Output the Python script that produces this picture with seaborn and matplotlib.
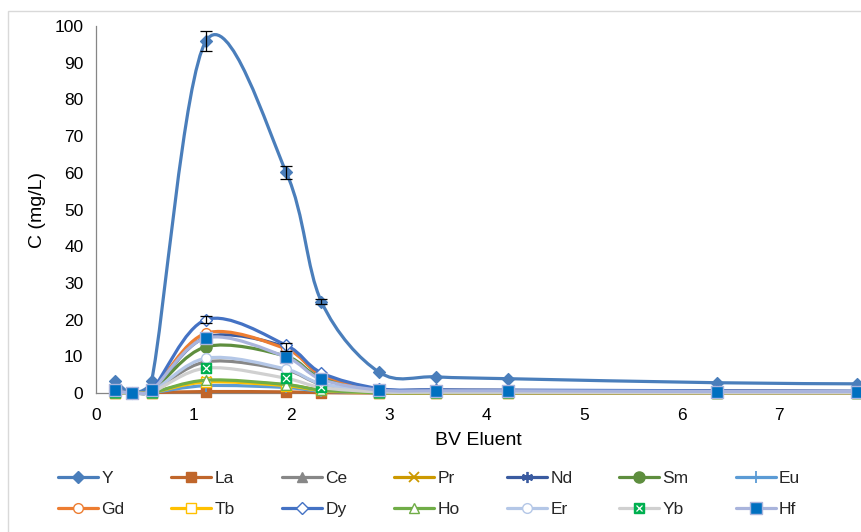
"""Elution profile of REEs vs bed volumes of eluent."""

import matplotlib

matplotlib.use("Agg")
import matplotlib.pyplot as plt
import numpy as np
import seaborn as sns
from matplotlib.lines import Line2D
from matplotlib.patches import PathPatch, Rectangle
from matplotlib.path import Path

# bed volumes of eluent (x) and concentration per element (mg/L)
bv = [0.19, 0.37, 0.57, 1.13, 1.95, 2.31, 2.90, 3.48, 4.22, 6.36, 7.80]

Y = [3.4, 0.0, 3.4, 96.0, 60.1, 24.9, 5.7, 4.4, 3.9, 2.8, 2.5]
La = [0.1, 0.0, 0.1, 0.4, 0.3, 0.1, 0.0, 0.0, 0.0, 0.0, 0.0]
Ce = [0.3, 0.0, 0.3, 8.5, 6.2, 2.4, 0.4, 0.3, 0.3, 0.2, 0.2]
Pr = [0.1, 0.0, 0.1, 3.2, 2.2, 0.8, 0.1, 0.1, 0.1, 0.1, 0.1]
Nd = [0.6, 0.0, 0.6, 15.2, 12.5, 4.8, 0.9, 0.7, 0.6, 0.5, 0.4]
Sm = [0.5, 0.0, 0.5, 12.6, 10.0, 4.0, 0.8, 0.6, 0.5, 0.4, 0.3]
Eu = [0.1, 0.0, 0.1, 2.0, 1.5, 0.5, 0.1, 0.1, 0.1, 0.1, 0.1]
Gd = [0.7, 0.0, 0.7, 16.3, 12.0, 5.0, 1.0, 0.8, 0.7, 0.5, 0.4]
Tb = [0.1, 0.0, 0.1, 3.0, 2.0, 0.7, 0.1, 0.1, 0.1, 0.1, 0.1]
Dy = [0.8, 0.0, 0.8, 20.0, 13.0, 5.5, 1.2, 0.9, 0.8, 0.6, 0.5]
Ho = [0.1, 0.0, 0.1, 3.5, 2.3, 0.8, 0.1, 0.1, 0.1, 0.1, 0.1]
Er = [0.3, 0.0, 0.3, 9.5, 6.5, 2.5, 0.5, 0.4, 0.3, 0.2, 0.2]
Yb = [0.2, 0.0, 0.2, 6.8, 4.0, 1.5, 0.3, 0.2, 0.2, 0.1, 0.1]
Hf = [0.7, 0.0, 0.7, 15.0, 9.8, 3.7, 0.8, 0.6, 0.6, 0.4, 0.4]

# standard deviations (only where error bars are visible)
Y_err = [0, 0, 0, 2.7, 1.8, 0.6, 0, 0, 0, 0, 0]
Dy_err = [0, 0, 0, 1.0, 0, 0, 0, 0, 0, 0, 0]
Nd_err = [0, 0, 0, 0, 1.0, 0, 0, 0, 0, 0, 0]

elements = ["Y", "La", "Ce", "Pr", "Nd", "Sm", "Eu",
            "Gd", "Tb", "Dy", "Ho", "Er", "Yb", "Hf"]
values = dict(Y=Y, La=La, Ce=Ce, Pr=Pr, Nd=Nd, Sm=Sm, Eu=Eu,
              Gd=Gd, Tb=Tb, Dy=Dy, Ho=Ho, Er=Er, Yb=Yb, Hf=Hf)

# line colour, marker, marker size, face colour, edge colour
styles = {
    "Y": ("#4A7EBB", "D", 6, "#4A7EBB", "#4A7EBB"),
    "La": ("#C0662B", "s", 7, "#C0662B", "#C0662B"),
    "Ce": ("#878787", "^", 7, "#878787", "#878787"),
    "Pr": ("#CC9900", "x", 7, "#CC9900", "#CC9900"),
    "Nd": ("#3A5BA0", (6, 2, 0), 8, "#3A5BA0", "#3A5BA0"),
    "Sm": ("#5E8E3E", "o", 8, "#5E8E3E", "#5E8E3E"),
    "Eu": ("#5B9BD5", "+", 8, "#5B9BD5", "#5B9BD5"),
    "Gd": ("#ED7D31", "o", 7, "white", "#ED7D31"),
    "Tb": ("#FFC000", "s", 7, "white", "#FFC000"),
    "Dy": ("#4472C4", "D", 6, "white", "#4472C4"),
    "Ho": ("#70AD47", "^", 7, "white", "#70AD47"),
    "Er": ("#B4C7E7", "o", 7, "white", "#B4C7E7"),
    "Yb": ("#D0D0D0", "s", 7, "#00B050", "#00B050"),
    "Hf": ("#A9B4DC", "s", 8, "#0070C0", "#A9B4DC"),
}


def smooth_path(ax, x, y):
    # Excel-like smoothed line: Catmull-Rom Bezier handles, shortened on
    # screen when a handle would be long compared with its segment
    pts = np.column_stack([x, y]).astype(float)
    to_disp = ax.transData.transform
    n = len(pts)
    verts, codes = [pts[0]], [Path.MOVETO]

    def handle(t, seg_len):
        tl = np.hypot(*(to_disp(t) - to_disp((0, 0))))
        limit = 0.4 * seg_len
        return t * min(1.0, limit / tl) if tl > 0 else t

    for i in range(n - 1):
        p0, p1 = pts[max(i - 1, 0)], pts[i]
        p2, p3 = pts[i + 1], pts[min(i + 2, n - 1)]
        seg_len = np.hypot(*(to_disp(p2) - to_disp(p1)))
        c1 = p1 + handle((p2 - p0) / 6, seg_len)
        c2 = p2 - handle((p3 - p1) / 6, seg_len)
        verts += [c1, c2, p2]
        codes += [Path.CURVE4] * 3
    return Path(verts, codes)


sns.set_theme(style="white")
plt.rcParams["font.family"] = ["Liberation Sans", "DejaVu Sans"]

fig = plt.figure(figsize=(8.62, 5.32), dpi=100)
ax = fig.add_axes([96 / 862, 1 - 393 / 532, 764 / 862, 367 / 532])
ax.set_xlim(0, 7.83)
ax.set_ylim(0, 100)

fig.patches.append(Rectangle((8 / 862, -0.1), 1.2, 1 - 11 / 532 + 0.1,
                             transform=fig.transFigure, fill=False,
                             edgecolor="#D9D9D9", lw=1.0))

handles = []
for i, el in enumerate(elements):
    lc, mk, ms, fc, ec = styles[el]
    z = 3 + i * 0.1
    ax.add_patch(PathPatch(smooth_path(ax, bv, values[el]), fill=False,
                           edgecolor=lc, lw=2.3, zorder=z, clip_on=False,
                           capstyle="round"))
    lw_m = 1.3 if mk in ("x", "+", (6, 2, 0)) else 1.0
    sns.scatterplot(x=bv, y=values[el], ax=ax, marker=mk, s=ms ** 2,
                    color=fc, facecolor=fc, edgecolor=ec, linewidth=lw_m,
                    zorder=z + 0.05, clip_on=False, legend=False)
    h = Line2D([], [], color=lc, lw=2.3, marker=mk, markersize=ms,
               markerfacecolor=fc, markeredgecolor=ec, markeredgewidth=lw_m)
    if el == "Yb":
        sns.scatterplot(x=bv, y=values[el], ax=ax, marker="x", s=25,
                        color="white", linewidth=0.9, zorder=z + 0.06,
                        clip_on=False, legend=False)
        h = (h, Line2D([], [], ls="none", marker="x", markersize=5,
                       markeredgecolor="white", markeredgewidth=0.9))
    handles.append(h)

for el, err in (("Y", Y_err), ("Dy", Dy_err), ("Nd", Nd_err)):
    idx = [k for k, e in enumerate(err) if e > 0]
    ax.errorbar([bv[k] for k in idx], [values[el][k] for k in idx],
                yerr=[err[k] for k in idx], fmt="none", ecolor="black",
                elinewidth=0.9, capsize=4, capthick=0.9, zorder=10)

ax.set_xticks(range(0, 8))
ax.set_yticks(range(0, 101, 10))
for side in ("top", "right"):
    ax.spines[side].set_visible(False)
for side in ("left", "bottom"):
    ax.spines[side].set_color("#868686")
    ax.spines[side].set_linewidth(0.9)
ax.tick_params(axis="both", direction="out", length=4, width=0.9,
               color="#868686", labelsize=12.5, labelcolor="black", pad=5)
ax.tick_params(axis="x", pad=7)
ax.set_xlabel("BV Eluent", fontsize=14, color="black", labelpad=6)
ax.set_ylabel("C (mg/L)", fontsize=14, color="black", labelpad=6)

# legend filled row by row (matplotlib fills columns first)
ncol = 7
order = [r * ncol + c for c in range(ncol) for r in range(2)]
fig.legend([handles[k] for k in order], [elements[k] for k in order],
           ncol=ncol, loc="upper left",
           bbox_to_anchor=(58 / 862, 1 - 471 / 532), frameon=False,
           fontsize=12.5, handlelength=2.3, handletextpad=0.2,
           columnspacing=2.7, labelspacing=0.9, borderpad=0,
           borderaxespad=0)

fig.savefig("out.png", dpi=100)
